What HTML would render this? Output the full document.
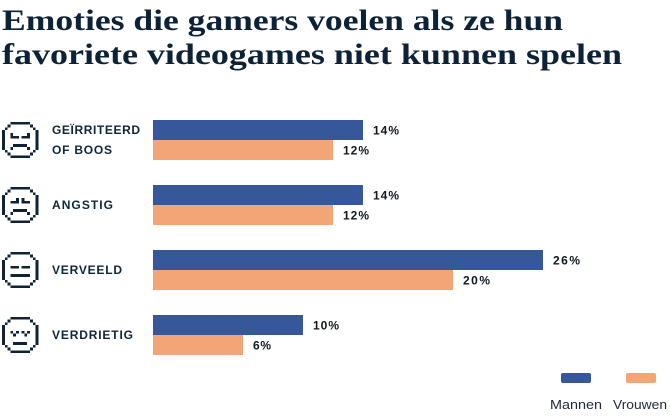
<!DOCTYPE html>
<html><head><meta charset="utf-8"><style>
html,body{margin:0;padding:0;background:#fff;}
svg{display:block;}
</style></head><body>
<svg width="670" height="419" viewBox="0 0 670 419" xmlns="http://www.w3.org/2000/svg">
<defs>
<g id="outline" fill="#0f2236">
<rect x="3" y="0" width="7" height="1"/>
<rect x="2" y="1" width="1" height="1"/><rect x="10" y="1" width="1" height="1"/>
<rect x="1" y="2" width="1" height="1"/><rect x="11" y="2" width="1" height="1"/>
<rect x="0" y="3" width="1" height="7"/><rect x="12" y="3" width="1" height="7"/>
<rect x="1" y="10" width="1" height="1"/><rect x="11" y="10" width="1" height="1"/>
<rect x="2" y="11" width="1" height="1"/><rect x="10" y="11" width="1" height="1"/>
<rect x="3" y="12" width="7" height="1"/>
</g>
</defs>

<!-- Title -->
<g font-family="'Liberation Serif', serif" font-weight="bold" font-size="30" fill="#0d2236">
<text x="2" y="30" textLength="561" lengthAdjust="spacingAndGlyphs">Emoties die gamers voelen als ze hun</text>
<text x="2" y="64" textLength="620" lengthAdjust="spacingAndGlyphs">favoriete videogames niet kunnen spelen</text>
</g>

<!-- Faces -->
<g shape-rendering="crispEdges" fill="#0f2236">
<g transform="translate(2,121.8) scale(2.8)">
<use href="#outline"/>
<rect x="3" y="4" width="1" height="1"/><rect x="3" y="5" width="3" height="1"/>
<rect x="9" y="4" width="1" height="1"/><rect x="7" y="5" width="3" height="1"/>
<rect x="4" y="8" width="5" height="1"/>
<rect x="3" y="9" width="1" height="1"/><rect x="9" y="9" width="1" height="1"/>
</g>
<g transform="translate(2,186.8) scale(2.8)">
<use href="#outline"/>
<rect x="5" y="4" width="1" height="1"/><rect x="3" y="5" width="3" height="1"/>
<rect x="7" y="4" width="1" height="1"/><rect x="7" y="5" width="3" height="1"/>
<rect x="4" y="8" width="5" height="1"/>
<rect x="3" y="9" width="1" height="1"/><rect x="9" y="9" width="1" height="1"/>
</g>
<g transform="translate(2,251.8) scale(2.8)">
<use href="#outline"/>
<rect x="3" y="5" width="3" height="1"/><rect x="7" y="5" width="3" height="1"/>
<rect x="3" y="8" width="7" height="1"/>
</g>
<g transform="translate(2,316.8) scale(2.8)">
<use href="#outline"/>
<rect x="3" y="5" width="1" height="1"/><rect x="5" y="5" width="1" height="1"/><rect x="4" y="6" width="1" height="1"/>
<rect x="7" y="5" width="1" height="1"/><rect x="9" y="5" width="1" height="1"/><rect x="8" y="6" width="1" height="1"/>
<rect x="4" y="9" width="5" height="1"/>
</g>
</g>

<!-- Category labels -->
<g font-family="'Liberation Sans', sans-serif" font-weight="bold" font-size="12" fill="#10253a">
<text x="52" y="134" textLength="88" lengthAdjust="spacing">GEÏRRITEERD</text>
<text x="52" y="154" textLength="60" lengthAdjust="spacing">OF BOOS</text>
<text x="52" y="209" textLength="61" lengthAdjust="spacing">ANGSTIG</text>
<text x="52" y="274" textLength="70" lengthAdjust="spacing">VERVEELD</text>
<text x="52" y="339" textLength="81" lengthAdjust="spacing">VERDRIETIG</text>
</g>

<!-- Bars -->
<g shape-rendering="crispEdges">
<rect x="153" y="120" width="210" height="20" fill="#36589a"/>
<rect x="153" y="140" width="180" height="20" fill="#f4a577"/>
<rect x="153" y="185" width="210" height="20" fill="#36589a"/>
<rect x="153" y="205" width="180" height="20" fill="#f4a577"/>
<rect x="153" y="250" width="390" height="20" fill="#36589a"/>
<rect x="153" y="270" width="300" height="20" fill="#f4a577"/>
<rect x="153" y="315" width="150" height="20" fill="#36589a"/>
<rect x="153" y="335" width="90" height="20" fill="#f4a577"/>
</g>

<!-- Value labels -->
<g font-family="'Liberation Sans', sans-serif" font-weight="bold" font-size="12" fill="#111820">
<text x="373" y="134.5" textLength="26" lengthAdjust="spacing">14%</text>
<text x="343" y="154.5" textLength="26" lengthAdjust="spacing">12%</text>
<text x="373" y="199.5" textLength="26" lengthAdjust="spacing">14%</text>
<text x="343" y="219.5" textLength="26" lengthAdjust="spacing">12%</text>
<text x="553" y="264.5" textLength="27" lengthAdjust="spacing">26%</text>
<text x="463" y="284.5" textLength="27" lengthAdjust="spacing">20%</text>
<text x="313" y="329.5" textLength="26" lengthAdjust="spacing">10%</text>
<text x="253" y="349.5" textLength="18" lengthAdjust="spacing">6%</text>
</g>

<!-- Legend -->
<rect x="561" y="373" width="30" height="10" rx="2" fill="#36589a"/>
<rect x="626" y="373" width="30" height="10" rx="2" fill="#f4a577"/>
<g font-family="'Liberation Sans', sans-serif" font-size="12.5" fill="#1d2b3a">
<text x="550" y="409" textLength="52" lengthAdjust="spacingAndGlyphs">Mannen</text>
<text x="613" y="409" textLength="54" lengthAdjust="spacingAndGlyphs">Vrouwen</text>
</g>
</svg>
</body></html>
